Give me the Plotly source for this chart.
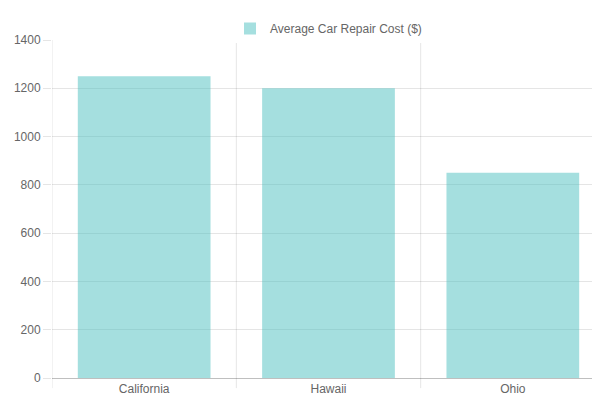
import plotly.graph_objects as go

states = ["California", "Hawaii", "Ohio"]
costs = [1250, 1200, 850]
series_name = "Average Car Repair Cost ($)"

fig = go.Figure(go.Bar(
    x=states, y=costs, name=series_name,
    marker=dict(color="rgba(75,192,192,0.5)", line=dict(width=0)),
    showlegend=True,
))

shapes = []
for i in range(len(states) + 1):
    shapes.append(dict(type="line", xref="x", yref="paper", x0=i - 0.5, x1=i - 0.5,
                       y0=-0.03, y1=1,
                       line=dict(color="rgba(0,0,0,0.1)", width=1), layer="below"))

fig.update_layout(
    width=600, height=400,
    margin=dict(l=44, r=3, t=32, b=30, autoexpand=False),
    paper_bgcolor="white", plot_bgcolor="white",
    font=dict(family="Liberation Sans, Arial", size=12, color="#666"),
    bargap=0.28,
    showlegend=True,
    legend=dict(orientation="h", x=0.5, xanchor="center", yref="container", y=0.985,
                yanchor="top", font=dict(size=12, color="#666")),
    xaxis=dict(range=[-0.5, 2.5], showgrid=False, showline=True, automargin=False,
               linecolor="rgba(0,0,0,0.25)", ticks="", fixedrange=True),
    yaxis=dict(range=[0, 1400], dtick=200, showgrid=True, gridcolor="rgba(0,0,0,0.1)",
               zeroline=False, showline=False, ticks="outside", ticklen=8, automargin=False,
               tickcolor="rgba(0,0,0,0.1)", tickfont=dict(color="#666")),
    shapes=shapes,
)
fig.write_html("out.html")
